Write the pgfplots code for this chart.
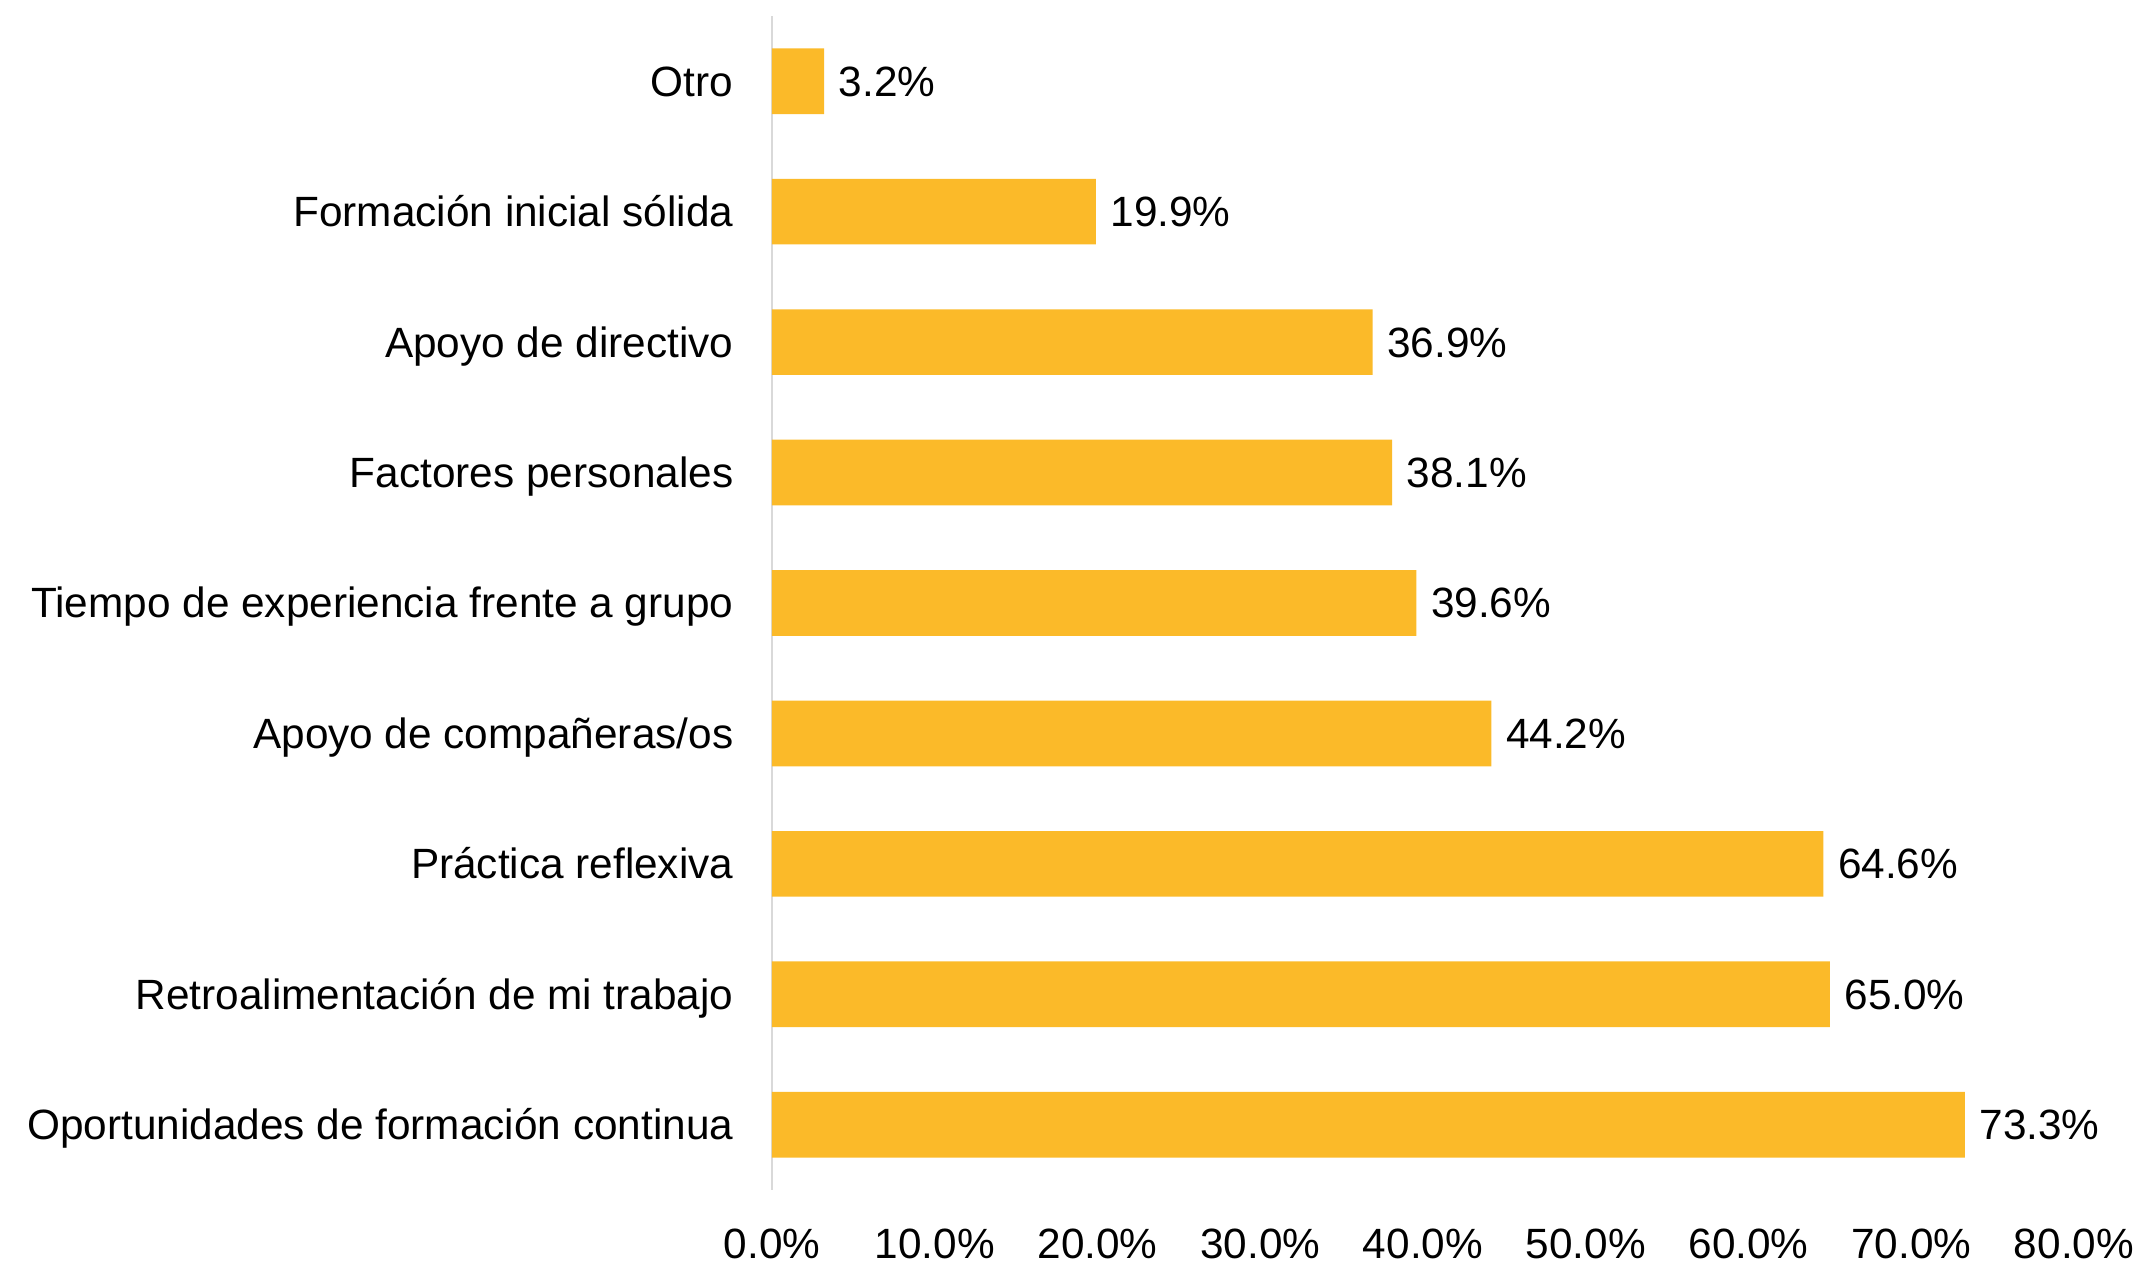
\documentclass[border=0pt]{standalone}
\usepackage{pgfplots}
\pgfplotsset{compat=1.18}
\usepackage{fontspec}
\setmainfont{Liberation Sans}
\definecolor{bargold}{RGB}{251,186,41}
\definecolor{axgray}{RGB}{217,217,217}
\begin{document}
\begin{tikzpicture}
\begin{axis}[
  scale only axis,
  width=390.6pt, height=352.2pt,
  xmin=0, xmax=80, ymin=-0.5, ymax=8.5,
  enlargelimits=false,
  xbar, bar width=19.7pt,
  /pgf/number format/assume math mode=true,
  font=\fontsize{12.7pt}{14pt}\selectfont,
  axis lines=left,
  axis line style={-},
  x axis line style={draw=none},
  y axis line style={draw=axgray, line width=0.5pt},
  major tick length=0pt,
  xtick={0,10,...,80},
  xticklabel={\pgfmathprintnumber[fixed,fixed zerofill,precision=1]{\tick}\%},
  x tick label style={anchor=base, yshift=-20.5pt, inner sep=0pt},
  ytick={0,...,8},
  yticklabels={Oportunidades de formación continua, Retroalimentación de mi trabajo, Práctica reflexiva, Apoyo de compañeras/os, Tiempo de experiencia frente a grupo, Factores personales, Apoyo de directivo, Formación inicial sólida, Otro},
  y tick label style={anchor=base east, inner sep=0pt, xshift=-11.4pt, yshift=-4.5pt},
  nodes near coords={\pgfmathprintnumber[fixed,fixed zerofill,precision=1]{\pgfplotspointmeta}\%},
  nodes near coords style={anchor=base west, inner sep=0pt, xshift=4.2pt, yshift=-4.5pt, text=black},
  clip=false,
]
\addplot[fill=bargold, draw=none] coordinates {
  (73.3,0) (65.0,1) (64.6,2) (44.2,3) (39.6,4) (38.1,5) (36.9,6) (19.9,7) (3.2,8)
};
\end{axis}
\pgfresetboundingbox
\path[use as bounding box] ([shift={(-231.6pt,-21.9pt)}]current axis.south west) rectangle ([shift={(411.6pt-390.6pt,4.8pt)}]current axis.north east);
\end{tikzpicture}
\end{document}
